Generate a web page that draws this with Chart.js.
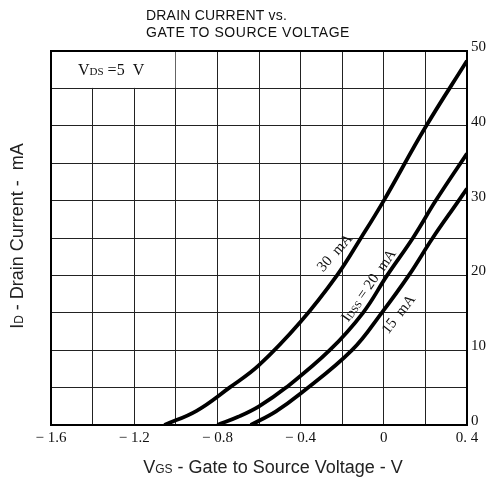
<!DOCTYPE html>
<html>
<head>
<meta charset="utf-8">
<script src="https://cdn.jsdelivr.net/npm/chart.js@4.4.1/dist/chart.umd.min.js"></script>
<style>
  html, body { margin: 0; padding: 0; background: #fff; }
  #wrap { width: 487px; height: 483px; }
</style>
</head>
<body>
<div id="wrap"><canvas id="chart" width="487" height="483"></canvas></div>
<script>
// Curves, VGS in volts, ID in mA
const vgs30 = [-1.055, -0.9, -0.742, -0.6, -0.4, -0.225, -0.11, 0, 0.2, 0.4];
const id30 = [0, 1.9, 5, 8.0, 13.8, 20, 25, 30, 39.8, 48.7];

const vgs20 = [-0.8, -0.7, -0.6, -0.47, -0.26, -0.1, 0.016, 0.14, 0.25, 0.4];
const id20 = [0, 1.1, 2.5, 5, 10, 15, 20, 25, 30, 36.3];

const vgs15 = [-0.64, -0.52, -0.4, -0.153, -0.01, 0.12, 0.235, 0.35, 0.4];
const id15 = [0, 1.8, 4.2, 10, 15, 20, 25, 29.6, 31.6];

const xTickValues = [-1.6, -1.2, -0.8, -0.4, 0, 0.4];
const xTickLabels = ['\u2212 1.6', '\u2212 1.2', '\u2212 0.8', '\u2212 0.4', '0', '0. 4'];
const yTickValues = [0, 10, 20, 30, 40, 50];
const yTickLabels = ['0', '10', '20', '30', '40', '50'];

const SERIF = '"Liberation Serif", "DejaVu Serif", serif';
const SANS = '"Liberation Sans", Arial, sans-serif';

const toPoints = (xs, ys) => xs.map((x, i) => ({ x, y: ys[i] }));

const curve = (label, xs, ys) => ({
  label,
  data: toPoints(xs, ys),
  showLine: true,
  borderColor: '#000',
  borderWidth: 3.8,
  pointRadius: 0,
  tension: 0.4,
  fill: false
});

// Lookup a label for a tick value, blank for the in-between grid lines.
const tickLabel = (values, labels) => (value) => {
  const idx = values.findIndex((v) => Math.abs(v - value) < 1e-6);
  return idx >= 0 ? labels[idx] : '';
};

// Draw a run of text pieces (with subscripts) centred on x, y.
const drawRich = (ctx, parts, x, y, angle = 0, align = 'center') => {
  ctx.save();
  ctx.translate(x, y);
  ctx.rotate(angle);
  ctx.textBaseline = 'alphabetic';
  ctx.textAlign = 'left';
  let total = 0;
  parts.forEach((p) => {
    ctx.font = p.font;
    p.w = ctx.measureText(p.text).width;
    total += p.w;
  });
  let cx = align === 'center' ? -total / 2 : 0;
  parts.forEach((p) => {
    ctx.font = p.font;
    ctx.fillText(p.text, cx, p.dy || 0);
    cx += p.w;
  });
  ctx.restore();
};

const decorPlugin = {
  id: 'decor',
  beforeDatasetsDraw(chart) {
    const { ctx, scales: { x, y } } = chart;
    // white box holding the VDS note, covering its grid lines
    const x1 = x.getPixelForValue(-1.6);
    const x2 = x.getPixelForValue(-1.0);
    const y1 = y.getPixelForValue(50);
    const y2 = y.getPixelForValue(45);
    ctx.save();
    ctx.fillStyle = '#fff';
    ctx.fillRect(x1 + 1, y1 + 1, x2 - x1 - 1.5, y2 - y1 - 1.5);
    ctx.restore();
  },
  afterDraw(chart) {
    const { ctx, chartArea: a, scales: { x, y } } = chart;
    ctx.save();
    ctx.strokeStyle = '#000';
    ctx.lineWidth = 2;
    ctx.strokeRect(a.left, a.top, a.right - a.left, a.bottom - a.top);

    ctx.fillStyle = '#111';

    // title, two lines, stretched a little like the original
    ctx.font = '14px "Liberation Sans Narrow", ' + SANS;
    ctx.textAlign = 'left';
    ctx.textBaseline = 'alphabetic';
    const fitLine = (text, left, base, target) => {
      ctx.letterSpacing = '0px';
      const w = ctx.measureText(text).width;
      const sp = Math.max(0, (target - w) / text.length);
      ctx.letterSpacing = sp.toFixed(2) + 'px';
      ctx.fillText(text, left, base);
      ctx.letterSpacing = '0px';
    };
    fitLine('DRAIN CURRENT vs.', 146, 20, 141);
    fitLine('GATE TO SOURCE VOLTAGE', 146, 37, 204);

    // VDS note
    drawRich(ctx, [
      { text: 'V', font: '16px ' + SERIF },
      { text: 'DS', font: '11px ' + SERIF },
      { text: ' =5  V', font: '16px ' + SERIF }
    ], x.getPixelForValue(-1.6) + 27, y.getPixelForValue(47.5) + 5, 0, 'left');

    // curve labels
    drawRich(ctx, [{ text: '30  mA', font: '15px ' + SERIF }],
      x.getPixelForValue(-0.22), y.getPixelForValue(23.3) + 5, -48 * Math.PI / 180);
    drawRich(ctx, [
      { text: 'I', font: '15px ' + SERIF },
      { text: 'DSS', font: '10px ' + SERIF, dy: 1 },
      { text: ' = 20  mA', font: '15px ' + SERIF }
    ], x.getPixelForValue(-0.055), y.getPixelForValue(19.0) + 5, -55 * Math.PI / 180);
    drawRich(ctx, [{ text: '15  mA', font: '15px ' + SERIF }],
      x.getPixelForValue(0.088), y.getPixelForValue(15.1) + 5, -52 * Math.PI / 180);

    // axis titles
    ctx.fillStyle = '#222';
    drawRich(ctx, [
      { text: 'V', font: '18px ' + SANS },
      { text: 'GS', font: '12px ' + SANS },
      { text: ' - Gate to Source Voltage - V', font: '18px ' + SANS }
    ], 273, 473);
    drawRich(ctx, [
      { text: 'I', font: '18px ' + SANS },
      { text: 'D', font: '12px ' + SANS },
      { text: ' - Drain Current -  mA', font: '18px ' + SANS }
    ], 23, 236, -Math.PI / 2);
    ctx.restore();
  }
};

const gridStyle = { color: '#222', lineWidth: 1, drawTicks: false };

new Chart(document.getElementById('chart'), {
  type: 'scatter',
  data: {
    datasets: [
      curve('30 mA', vgs30, id30),
      curve('IDSS = 20 mA', vgs20, id20),
      curve('15 mA', vgs15, id15)
    ]
  },
  options: {
    responsive: false,
    animation: false,
    devicePixelRatio: 1,
    layout: { padding: { left: 51, top: 51, right: 0, bottom: 0 } },
    plugins: {
      legend: { display: false },
      tooltip: { enabled: false }
    },
    scales: {
      x: {
        type: 'linear',
        min: -1.6,
        max: 0.4,
        grid: gridStyle,
        border: { display: false },
        ticks: {
          stepSize: 0.2,
          autoSkip: false,
          maxRotation: 0,
          padding: 4,
          color: '#111',
          font: { family: SERIF, size: 15 },
          callback: tickLabel(xTickValues, xTickLabels)
        },
        afterFit: (scale) => { scale.height = 58; }
      },
      y: {
        type: 'linear',
        position: 'right',
        min: 0,
        max: 50,
        grid: gridStyle,
        border: { display: false },
        ticks: {
          stepSize: 5,
          autoSkip: false,
          padding: 4,
          labelOffset: -4,
          color: '#111',
          font: { family: SERIF, size: 15 },
          callback: tickLabel(yTickValues, yTickLabels)
        },
        afterFit: (scale) => { scale.width = 20; }
      }
    }
  },
  plugins: [decorPlugin]
});
</script>
</body>
</html>
